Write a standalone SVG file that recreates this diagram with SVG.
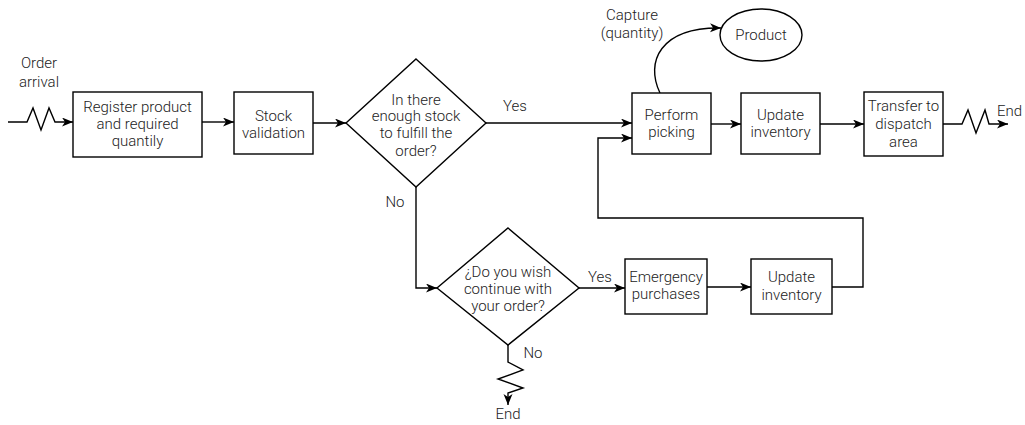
<svg xmlns="http://www.w3.org/2000/svg" width="1025" height="425" viewBox="0 0 1025 425">
<defs>
<marker id="arr" markerUnits="userSpaceOnUse" markerWidth="12" markerHeight="10" refX="11" refY="4.5" orient="auto">
<path d="M0,0 L11,4.5 L0,9 L3,4.5 z" fill="#000"/>
</marker>
<style>
.n{fill:#fff;stroke:#000;stroke-width:1.4}
.c{fill:none;stroke:#000;stroke-width:1.4}
.a{marker-end:url(#arr)}
text{font-family:Roboto,"Liberation Sans",sans-serif;font-weight:300;font-size:15px;fill:#222;text-anchor:middle}
</style>
</defs>
<rect width="1025" height="425" fill="#fff"/>
<g id="connectors">
<polyline class="c a" points="8,122 27,122 33,108 41,130 49,108 55,122 73,122"/>
<line class="c a" x1="202" y1="122" x2="234" y2="122"/>
<line class="c a" x1="313" y1="123" x2="346" y2="123"/>
<line class="c a" x1="486" y1="123" x2="632" y2="123"/>
<line class="c a" x1="711" y1="124" x2="741" y2="124"/>
<line class="c a" x1="820" y1="124" x2="864" y2="124"/>
<polyline class="c a" points="943,124 962,124 968,110 976,133 985,110 989,124 1008,124"/>
<path class="c a" d="M660,93 C645,62 660,27 721,28"/>
<polyline class="c a" points="416,187 416,288 437,288"/>
<line class="c a" x1="579" y1="288" x2="625" y2="288"/>
<line class="c a" x1="707" y1="287" x2="751" y2="287"/>
<polyline class="c a" points="832,287 863,287 863,218 598,218 598,138 632,138"/>
<polyline class="c a" points="508,345 508,362 523,370 498,379 523,388 508,393 508,405"/>
<text x="39" y="68">Order</text>
<text x="39" y="87">arrival</text>
<text x="515" y="111">Yes</text>
<text x="395" y="207">No</text>
<text x="600" y="282">Yes</text>
<text x="533" y="358">No</text>
<text x="508" y="419">End</text>
<text x="997" y="116" style="text-anchor:start">End</text>
<text x="632" y="20">Capture</text>
<text x="632" y="38">(quantity)</text>
</g>
<g id="register">
<rect class="n" x="73" y="92" width="129" height="65"/>
<text x="137.5" y="112">Register product</text>
<text x="137.5" y="129">and required</text>
<text x="137.5" y="146">quantily</text>
</g>
<g id="stock">
<rect class="n" x="234" y="92" width="79" height="62"/>
<text x="273.5" y="121">Stock</text>
<text x="273.5" y="138">validation</text>
</g>
<g id="decision1">
<polygon class="n" points="416,59 486,123 416,187 346,123"/>
<text x="416" y="105">In there</text>
<text x="416" y="121">enough stock</text>
<text x="416" y="138">to fulfill the</text>
<text x="416" y="156">order?</text>
</g>
<g id="picking">
<rect class="n" x="632" y="93" width="79" height="61"/>
<text x="671.5" y="120">Perform</text>
<text x="671.5" y="137">picking</text>
</g>
<g id="update1">
<rect class="n" x="741" y="93" width="79" height="61"/>
<text x="780.5" y="120">Update</text>
<text x="780.5" y="137">inventory</text>
</g>
<g id="transfer">
<rect class="n" x="864" y="92" width="79" height="64"/>
<text x="903.5" y="111">Transfer to</text>
<text x="903.5" y="129">dispatch</text>
<text x="903.5" y="147">area</text>
</g>
<g id="product">
<ellipse class="n" cx="761" cy="35" rx="41" ry="26"/>
<text x="761" y="40">Product</text>
</g>
<g id="decision2">
<polygon class="n" points="508,228 579,288 508,345 437,288"/>
<text x="508" y="277">¿Do you wish</text>
<text x="508" y="294">continue with</text>
<text x="508" y="311">your order?</text>
</g>
<g id="emergency">
<rect class="n" x="625" y="259" width="82" height="55"/>
<text x="666" y="282">Emergency</text>
<text x="666" y="299">purchases</text>
</g>
<g id="update2">
<rect class="n" x="751" y="259" width="81" height="55"/>
<text x="791.5" y="282">Update</text>
<text x="791.5" y="300">inventory</text>
</g>
</svg>
